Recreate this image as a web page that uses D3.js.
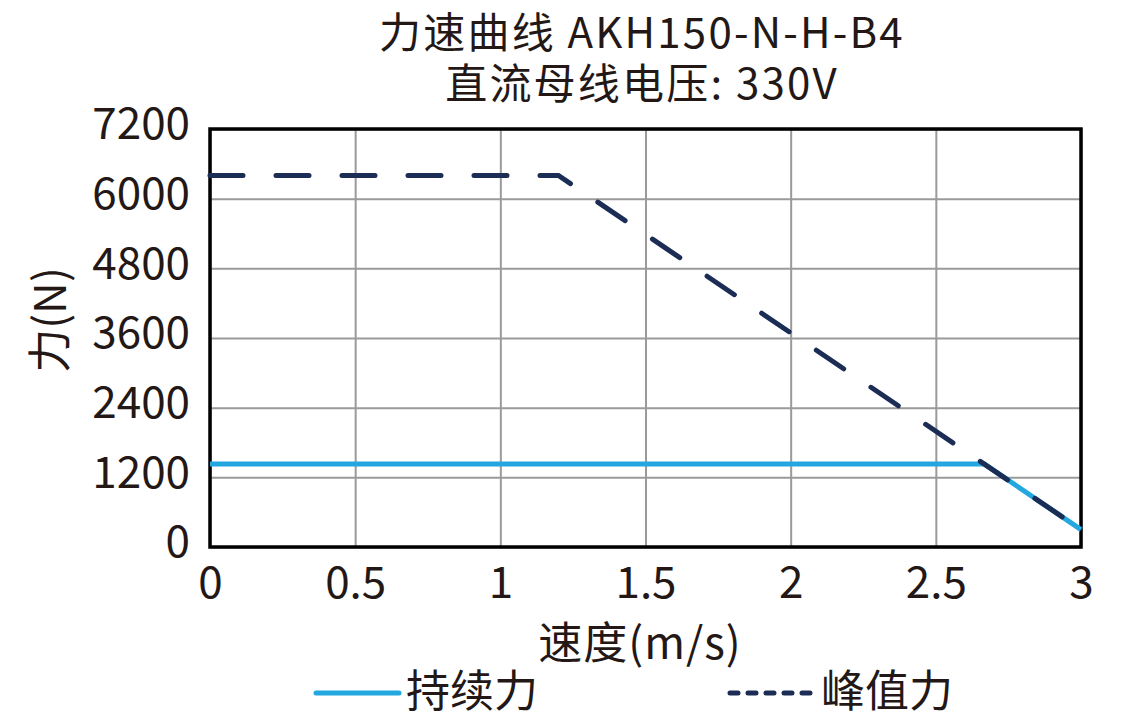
<!DOCTYPE html>
<html>
<head>
<meta charset="utf-8">
<script src="https://cdn.jsdelivr.net/npm/d3@7"></script>
<style>
  body { margin: 0; background: #fff; }
  text { font-family: "Noto Sans CJK SC", "Noto Sans", sans-serif; fill: #231815; }
</style>
</head>
<body>
<svg id="chart" width="1137" height="726"></svg>
<script>
// DATA
var speedContinuous = [0, 2.667, 3];
var forceContinuous = [1430, 1430, 300];
var speedPeak = [0, 1.2, 3];
var forcePeak = [6400, 6400, 300];
var xTicks = [0, 0.5, 1, 1.5, 2, 2.5, 3];
var yTicks = [0, 1200, 2400, 3600, 4800, 6000, 7200];
var xTickLabels = ["0", "0.5", "1", "1.5", "2", "2.5", "3"];
var yTickLabels = ["0", "1200", "2400", "3600", "4800", "6000", "7200"];

var svg = d3.select("#chart");
var plotLeft = 210, plotRight = 1081, plotTop = 129, plotBottom = 547;

// SCALES
var xScale = d3.scaleLinear().domain([0, 3]).range([plotLeft, plotRight]);
var yScale = d3.scaleLinear().domain([0, 7200]).range([plotBottom, plotTop]);

// GRID
var xGrid = d3.axisBottom(xScale).tickValues(xTicks).tickSize(-(plotBottom - plotTop)).tickFormat("");
svg.append("g")
  .attr("transform", "translate(0," + plotBottom + ")")
  .call(xGrid)
  .call(function (g) {
    g.select(".domain").remove();
    g.selectAll("line").attr("stroke", "#9a9a9a").attr("stroke-width", 2);
  });
var yGrid = d3.axisLeft(yScale).tickValues(yTicks).tickSize(-(plotRight - plotLeft)).tickFormat("");
svg.append("g")
  .attr("transform", "translate(" + plotLeft + ",0)")
  .call(yGrid)
  .call(function (g) {
    g.select(".domain").remove();
    g.selectAll("line").attr("stroke", "#9a9a9a").attr("stroke-width", 2);
  });

// TICK LABELS
var xAxis = d3.axisBottom(xScale).tickValues(xTicks).tickSize(0).tickPadding(20)
  .tickFormat(function (d, i) { return xTickLabels[i]; });
svg.append("g")
  .attr("transform", "translate(0," + plotBottom + ")")
  .call(xAxis)
  .call(function (g) {
    g.select(".domain").remove();
    g.selectAll("text").attr("font-size", "44px").attr("fill", "#231815")
      .attr("font-family", "'Noto Sans CJK SC', sans-serif");
  });
var yAxis = d3.axisLeft(yScale).tickValues(yTicks).tickSize(0).tickPadding(20)
  .tickFormat(function (d, i) { return yTickLabels[i]; });
svg.append("g")
  .attr("transform", "translate(" + plotLeft + ",0)")
  .call(yAxis)
  .call(function (g) {
    g.select(".domain").remove();
    g.selectAll("text").attr("font-size", "44px").attr("fill", "#231815")
      .attr("dy", "0.22em")
      .attr("font-family", "'Noto Sans CJK SC', sans-serif");
  });

// FRAME
svg.append("rect")
  .attr("x", plotLeft).attr("y", plotTop)
  .attr("width", plotRight - plotLeft).attr("height", plotBottom - plotTop)
  .attr("fill", "none").attr("stroke", "#000").attr("stroke-width", 3.5);

// LINES
var line = d3.line()
  .x(function (d) { return xScale(d[0]); })
  .y(function (d) { return yScale(d[1]); });

var contData = speedContinuous.map(function (s, i) { return [s, forceContinuous[i]]; });
var peakData = speedPeak.map(function (s, i) { return [s, forcePeak[i]]; });

svg.append("path")
  .datum(contData)
  .attr("d", line)
  .attr("fill", "none")
  .attr("stroke", "#22a7e0")
  .attr("stroke-width", 5);

svg.append("path")
  .datum(peakData)
  .attr("d", line)
  .attr("fill", "none")
  .attr("stroke", "#1b2d55")
  .attr("stroke-width", 5)
  .attr("stroke-linecap", "round")
  .attr("stroke-dasharray", "33,33");

// TITLE
svg.append("text")
  .attr("x", 642).attr("y", 48)
  .attr("text-anchor", "middle")
  .attr("font-size", "42px")
  .attr("letter-spacing", "2.2px")
  .text("力速曲线 AKH150-N-H-B4");
svg.append("text")
  .attr("x", 642).attr("y", 99)
  .attr("text-anchor", "middle")
  .attr("font-size", "42px")
  .attr("letter-spacing", "2.2px")
  .text("直流母线电压: 330V");

// AXIS LABELS
svg.append("text")
  .attr("x", 640).attr("y", 659)
  .attr("text-anchor", "middle")
  .attr("font-size", "44px")
  .attr("letter-spacing", "1px")
  .text("速度(m/s)");
svg.append("text")
  .attr("transform", "translate(66,320) rotate(-90)")
  .attr("text-anchor", "middle")
  .attr("font-size", "44px")
  .text("力(N)");

// LEGEND
svg.append("line")
  .attr("x1", 316).attr("x2", 399).attr("y1", 693).attr("y2", 693)
  .attr("stroke", "#22a7e0").attr("stroke-width", 5).attr("stroke-linecap", "round");
svg.append("text")
  .attr("x", 406).attr("y", 707)
  .attr("font-size", "44px")
  .text("持续力");
svg.append("line")
  .attr("x1", 730).attr("x2", 814).attr("y1", 693).attr("y2", 693)
  .attr("stroke", "#1b2d55").attr("stroke-width", 5).attr("stroke-linecap", "round")
  .attr("stroke-dasharray", "8,10");
svg.append("text")
  .attr("x", 821).attr("y", 707)
  .attr("font-size", "44px")
  .text("峰值力");
</script>
</body>
</html>
